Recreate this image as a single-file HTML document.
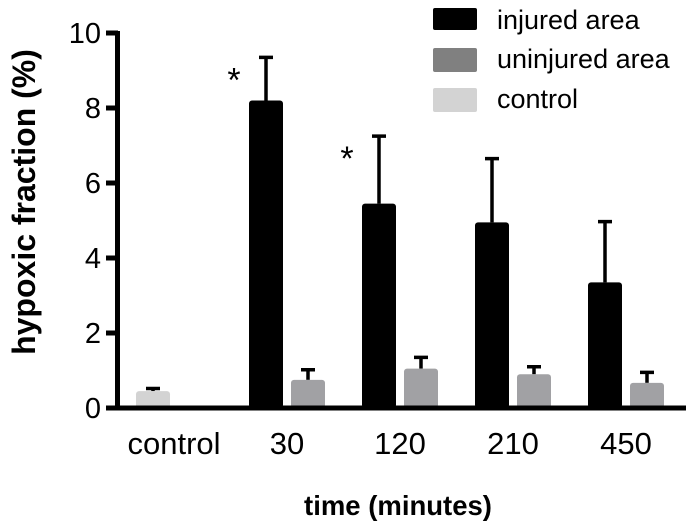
<!DOCTYPE html>
<html><head><meta charset="utf-8"><style>
body{margin:0;background:#fff;}
svg text{font-family:"Liberation Sans",Arial,sans-serif;}
</style></head><body>
<svg id="chart" width="694" height="532" viewBox="0 0 694 532" xmlns="http://www.w3.org/2000/svg" style="position:absolute;left:0;top:0">
<g id="bars"></g>
<g id="axes"></g>
<text transform="translate(35,202) rotate(-90)" text-anchor="middle" font-size="32" font-weight="bold">hypoxic fraction (%)</text>
<text x="398" y="515" text-anchor="middle" font-size="27.5" font-weight="bold">time (minutes)</text>
<g>
<rect x="433" y="8" width="44" height="22" rx="2" fill="#000"/>
<text x="497" y="29" font-size="27">injured area</text>
<rect x="433" y="48" width="44" height="24" rx="2" fill="#808080"/>
<text x="497" y="68" font-size="27">uninjured area</text>
<rect x="433" y="88" width="44" height="24" rx="2" fill="#d3d3d3"/>
<text x="497" y="108" font-size="27">control</text>
</g>
</svg>
<script>
const categories=["control","30","120","210","450"];
const injured=[null,8.2,5.45,4.95,3.35];
const injuredErr=[null,1.15,1.8,1.7,1.62];
const uninjured=[null,0.75,1.05,0.9,0.67];
const uninjuredErr=[null,0.27,0.3,0.2,0.28];
const control=[0.45,null,null,null,null];
const controlErr=[0.07,null,null,null,null];
const yTicks=[0,2,4,6,8,10];
const sigIdx=[1,2];

const NS="http://www.w3.org/2000/svg";
const y0=408, pxPer=37.5;
const yS=v=>y0-v*pxPer;
const groupCenter=i=>174+i*113;
const bw=34;
const bars=document.getElementById('bars'), axes=document.getElementById('axes');
function mk(tag,attrs,parent){const e=document.createElementNS(NS,tag);for(const k in attrs)e.setAttribute(k,attrs[k]);parent.appendChild(e);return e;}
function bar(cx,v,err,fill,parent,name){
  const top=yS(v);
  const eb=mk('path',{d:`M${cx} ${top} V${yS(v+err)} M${cx-7} ${yS(v+err)} H${cx+7}`,stroke:'#000','stroke-width':3.5,fill:'none'},parent);
  
  
  const r=mk('rect',{x:cx-bw/2,y:top,width:bw,height:y0-top,fill:fill,rx:3},parent);
  
  
}
categories.forEach((c,i)=>{
  const gc=groupCenter(i);
  if(control[i]!=null) bar(gc-21,control[i],controlErr[i],'#d3d3d3',bars,'bar-control');
  if(injured[i]!=null) bar(gc-21,injured[i],injuredErr[i],'#000',bars,'bar-injured-'+c);
  if(uninjured[i]!=null) bar(gc+21,uninjured[i],uninjuredErr[i],'#a1a1a4',bars,'bar-uninjured-'+c);
  const t=mk('text',{x:gc,y:454,'font-size':31,'text-anchor':'middle'},axes);
  t.textContent=c;
  
  
});
sigIdx.forEach(i=>{
  const gc=groupCenter(i);
  const t=mk('text',{x:gc-21-32,y:yS(injured[i]+injuredErr[i])+34,'font-size':34,'text-anchor':'middle'},axes);
  t.textContent='*';
  
  
});
const xa=mk('path',{d:`M115 ${y0} H686`,stroke:'#000','stroke-width':5},axes);


const ya=mk('path',{d:`M117.5 ${yS(10)-2} V${y0+2}`,stroke:'#000','stroke-width':5},axes);


yTicks.forEach(v=>{
  const tk=mk('path',{d:`M106 ${yS(v)} H118`,stroke:'#000','stroke-width':5},axes);
  
  
  const t=mk('text',{x:101,y:yS(v)+10,'font-size':29,'text-anchor':'end'},axes);
  t.textContent=v;
  
  
});
</script>
</body></html>
